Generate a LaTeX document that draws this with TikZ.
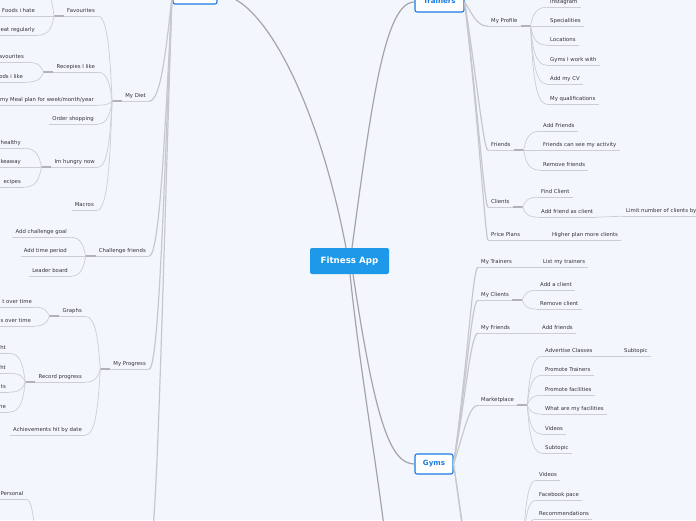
\documentclass[tikz,border=0pt]{standalone}
\usepackage{fontspec}
\setmainfont{DejaVu Sans}
\usetikzlibrary{calc}
\definecolor{bg}{RGB}{243,246,253}
\definecolor{txtC}{RGB}{50,50,54}
\definecolor{lineC}{RGB}{204,206,212}
\definecolor{lineB}{RGB}{198,200,206}
\definecolor{lineM}{RGB}{165,165,168}
\definecolor{jnC}{RGB}{178,178,180}
\definecolor{blueF}{RGB}{30,152,232}
\definecolor{blueB}{RGB}{26,122,224}
\newcommand\lfont{\fontsize{5.35}{6.4}\selectfont}
\newcommand\nR[4]{\node[lbl,anchor=base west] (#1) at ({#2-3},{#3+2}) {#4};\draw[ul] (#1.south west) -- (#1.south east);}
\newcommand\nL[4]{\node[lbl,anchor=base east] (#1) at ({#2+3},{#3+2}) {#4};\draw[ul] (#1.south west) -- (#1.south east);}
\newcommand\cnx[5][cn]{\draw[#1] let \p1=(#2), \p2=(#3) in (\p1) .. controls ({\x1+(#4)*1pt},{0.5*\y1+0.5*\y2}) and ({\x1+(#5)*1pt},\y2) .. (\p2);}
\newcommand\jR[2]{\draw[jn] (#1.south east) -- ++(10,0) coordinate (#2);}
\newcommand\jL[2]{\draw[jn] (#1.south west) -- ++(-10,0) coordinate (#2);}
\begin{document}
\begin{tikzpicture}[x=1pt,y=-1pt,
  lbl/.style={font=\lfont,text=txtC,inner xsep=3pt,inner ysep=2.7pt,text height=3.9pt,text depth=1.3pt},
  ul/.style={draw=lineC,line width=0.7pt},
  cn/.style={draw=lineC,line width=0.7pt},
  cnB/.style={draw=lineB,line width=1.2pt},
  mc/.style={draw=lineM,line width=1.2pt},
  jn/.style={draw=jnC,line width=1.5pt},
  box/.style={draw=blueB,line width=1.1pt,fill=white,rounded corners=2pt,text=blueB,font=\bfseries\fontsize{7.1}{8}\selectfont,text height=5.2pt,text depth=1.4pt,inner sep=0pt}]
\useasboundingbox (0,0) rectangle (696,520);
\clip (0,0) rectangle (696,520);
\fill[bg] (0,0) rectangle (696,520);

% main boxes
\node[draw=none,fill=blueF,rounded corners=2pt,text=white,font=\bfseries\fontsize{8.7}{10}\selectfont,minimum width=79pt,minimum height=26pt,inner sep=0pt] (app) at (349.5,261) {Fitness App};
\node[box,minimum width=49pt,minimum height=20pt] (trainers) at (439.5,2) {Trainers};
\node[box,minimum width=38pt,minimum height=20pt] (gyms) at (434,464) {Gyms};
\node[box,minimum width=44pt,minimum height=20pt] (lbox) at (195,-6) {};

\coordinate (bottomEnd) at (385,535);
\draw[mc] ($(app.north)+(-3.5,0)$) .. controls (320,110) and (265,-5) .. (lbox.east);
\draw[mc] ($(app.north)+(2.5,0)$) .. controls (372,100) and (385,2) .. (trainers.west);
\draw[mc] ($(app.south)+(3.5,0)$) .. controls (375,420) and (390,464) .. (gyms.west);
\draw[mc] ($(app.south)+(0.5,0)$) .. controls (360,370) and (376,460) .. (bottomEnd);

% ---------------- left side ----------------
\coordinate (lJ) at (172,-3);
\nL{mydiet}{146}{95}{My Diet}
\nL{challenge}{146}{250}{Challenge friends}
\nL{progress}{146}{363}{My Progress}
\coordinate (lOff) at (150,545);
\cnx[cnB]{lJ}{mydiet.south east}{-6}{-11}
\cnx[cnB]{lJ}{challenge.south east}{-7}{-12}
\cnx[cnB]{lJ}{progress.south east}{-8}{-13}
\cnx[cnB]{lJ}{lOff}{-9}{-15}

\jL{mydiet}{dJ}
\nL{fav}{95}{10}{Favourites}
\nL{recep}{95}{66}{Recepies I like}
\nL{meal}{94}{99}{my Meal plan for week/month/year}
\nL{order}{94}{118}{Order shopping}
\nL{hungry}{95}{161}{Im hungry now}
\nL{macros}{94}{204}{Macros}
\foreach \c in {fav,recep,meal,order,hungry,macros}{\cnx{dJ}{\c.south east}{-2}{-4}}

\jL{fav}{fJ}
\nL{foodshate}{35}{10}{Foods i hate}
\nL{eatreg}{35}{29}{eat regularly}
\coordinate (favUp) at (38,-14);
\cnx{fJ}{foodshate.south east}{-2}{-4}
\cnx{fJ}{eatreg.south east}{-2}{-4}
\cnx{fJ}{favUp}{-2}{-4}

\jL{recep}{rJ}
\nL{avour}{24}{56}{avourites}
\nL{odslike}{23}{76}{ods i like}
\cnx{rJ}{avour.south east}{-2}{-4}
\cnx{rJ}{odslike.south east}{-2}{-4}

\jL{hungry}{hJ}
\nL{healthy}{21}{142}{healthy}
\nL{keaway}{21}{161}{keaway}
\nL{ecipes}{21}{181}{ecipes}
\foreach \c in {healthy,keaway,ecipes}{\cnx{hJ}{\c.south east}{-2}{-4}}

\jL{challenge}{cJ}
\nL{goal}{67}{231}{Add challenge goal}
\nL{timep}{67}{250}{Add time period}
\nL{leader}{68}{270}{Leader board}
\foreach \c in {goal,timep,leader}{\cnx{cJ}{\c.south east}{-2}{-4}}

\jL{progress}{pJ}
\nL{graphs}{82}{310}{Graphs}
\nL{record}{82}{376}{Record progress}
\nL{achieve}{82}{429}{Achievements hit by date}
\foreach \c in {graphs,record,achieve}{\cnx{pJ}{\c.south east}{-2}{-4}}

\jL{graphs}{grJ}
\nL{tover}{32}{301}{t over time}
\nL{sover}{31}{320}{s over time}
\cnx{grJ}{tover.south east}{-2}{-4}
\cnx{grJ}{sover.south east}{-2}{-4}

\jL{record}{recJ}
\nL{htA}{6}{347}{ht}
\nL{htB}{6}{367}{ht}
\nL{tsA}{6}{386}{ts}
\nL{neA}{6}{406}{ne}
\foreach \c in {htA,htB,tsA,neA}{\cnx{recJ}{\c.south east}{-2}{-4}}

\nL{personal}{23.5}{493}{Personal}
\coordinate (persOff) at (37,560);
\cnx{persOff}{personal.south east}{-2}{-4}

% ---------------- Trainers ----------------
\coordinate (tJ) at (trainers.east);
\nR{myprofile}{491}{20}{My Profile}
\nR{friends}{491}{144}{Friends}
\nR{clients}{491}{201}{Clients}
\nR{price}{491}{234}{Price Plans}
\cnx[cnB]{tJ}{myprofile.south west}{8}{12}
\cnx[cnB]{tJ}{friends.south west}{12}{19}
\cnx[cnB]{tJ}{clients.south west}{13}{20}
\cnx[cnB]{tJ}{price.south west}{14}{21}

\jR{myprofile}{mpJ}
\nR{insta}{550}{1}{Instagram}
\nR{spec}{550}{20}{Specialities}
\nR{loc}{550}{39}{Locations}
\nR{gymswork}{550}{59}{Gyms I work with}
\nR{cv}{550}{78}{Add my CV}
\nR{qual}{550}{98}{My qualifications}
\foreach \c in {insta,spec,loc,gymswork,cv,qual}{\cnx{mpJ}{\c.south west}{2}{4}}

\jR{friends}{frJ}
\nR{addfr}{543}{125}{Add Friends}
\nR{cansee}{543}{144}{Friends can see my activity}
\nR{remfr}{543}{164}{Remove friends}
\foreach \c in {addfr,cansee,remfr}{\cnx{frJ}{\c.south west}{2}{4}}

\jR{clients}{clJ}
\nR{findc}{541}{191}{Find Client}
\nR{addfc}{541}{211}{Add friend as client}
\nR{limit}{626}{210}{Limit number of clients by}
\cnx{clJ}{findc.south west}{2}{4}
\cnx{clJ}{addfc.south west}{2}{4}
\draw[cn] (addfc.south east) -- (limit.south west);

\nR{higher}{552}{234}{Higher plan more clients}
\draw[cn] (price.south east) -- (higher.south west);

% ---------------- Gyms ----------------
\coordinate (gJ) at (gyms.east);
\nR{mytrainers}{481}{261}{My Trainers}
\nR{myclients}{481}{294}{My Clients}
\nR{myfriends}{481}{327}{My Friends}
\nR{market}{481}{399}{Marketplace}
\cnx[cnB]{gJ}{mytrainers.south west}{14}{19}
\cnx[cnB]{gJ}{myclients.south west}{13}{18}
\cnx[cnB]{gJ}{myfriends.south west}{12}{17}
\cnx[cnB]{gJ}{market.south west}{10}{15}
\coordinate (gOffA) at (478,565);
\coordinate (gOffB) at (478,610);
\cnx[cnB]{gJ}{gOffA}{8}{12}
\cnx[cnB]{gJ}{gOffB}{11}{17}

\nR{listtr}{543}{261}{List my trainers}
\draw[cn] (mytrainers.south east) -- (listtr.south west);
\jR{myclients}{mcJ}
\nR{addc}{540}{284}{Add a client}
\nR{remc}{540}{303}{Remove client}
\cnx{mcJ}{addc.south west}{2}{4}
\cnx{mcJ}{remc.south west}{2}{4}
\nR{addfriends}{542}{327}{Add friends}
\draw[cn] (myfriends.south east) -- (addfriends.south west);

\jR{market}{mkJ}
\nR{advert}{545}{350}{Advertise Classes}
\nR{promT}{545}{369}{Promote Trainers}
\nR{promF}{545}{389}{Promote facilities}
\nR{whatfac}{545}{408}{What are my facilities}
\nR{videosA}{545}{428}{Videos}
\nR{subB}{545}{447}{Subtopic}
\foreach \c in {advert,promT,promF,whatfac,videosA,subB}{\cnx{mkJ}{\c.south west}{2}{4}}
\nR{subA}{624}{350}{Subtopic}
\draw[cn] (advert.south east) -- (subA.south west);

\coordinate (vJ) at (523,545);
\nR{videosB}{539}{474}{Videos}
\nR{fb}{539}{494}{Facebook pace}
\nR{recom}{539}{513}{Recommendations}
\foreach \c in {videosB,fb,recom}{\cnx{vJ}{\c.south west}{2}{4}}
\end{tikzpicture}
\end{document}
